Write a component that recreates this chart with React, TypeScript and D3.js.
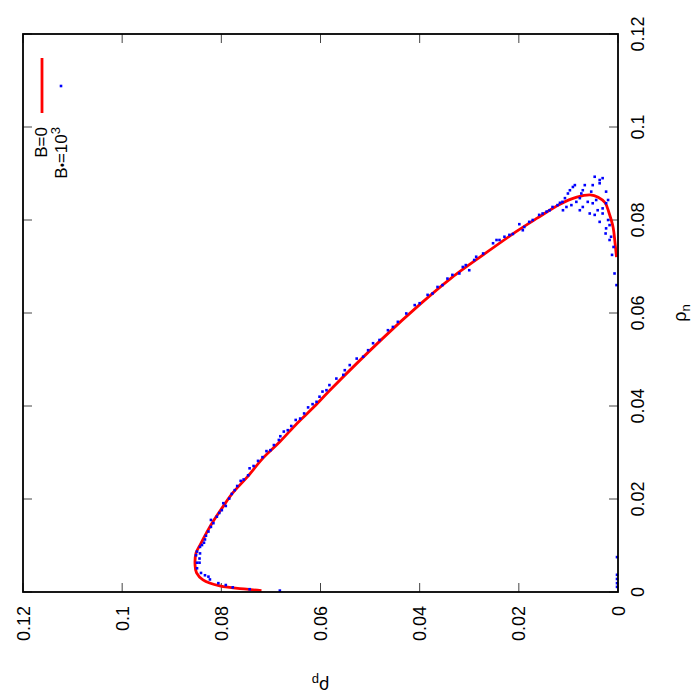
import * as d3 from "d3";

const W = 700;
const H = 700;
// plot frame, already in the rotated layout of the picture
const FRAME = { left: 23, right: 618, top: 34, bottom: 592 };
const FONT = "'Liberation Sans', Arial, Helvetica, sans-serif";

// tick values shared by both axes
const TICKS = [0, 0.02, 0.04, 0.06, 0.08, 0.1, 0.12];
const TICK_LABELS = ["0", "0.02", "0.04", "0.06", "0.08", "0.1", "0.12"];

// B=0 curve (red line)
const redRhoN = [
  0.0003, 0.0006, 0.0013, 0.0026, 0.0041, 0.0058, 0.0084, 0.0101, 0.0127, 0.0151,
  0.0183, 0.0213, 0.0247, 0.0288, 0.0323, 0.0363, 0.0396, 0.0434, 0.0546, 0.0619,
  0.0673, 0.0725, 0.0776, 0.0804, 0.0834, 0.0849, 0.0854, 0.0849, 0.0837,
  0.0815, 0.0785, 0.0751, 0.072,
];
const redRhoP = [
  0.0719, 0.0749, 0.0803, 0.0837, 0.085, 0.0853, 0.0851, 0.0843, 0.083, 0.0817,
  0.0797, 0.0777, 0.0748, 0.0716, 0.0682, 0.0647, 0.0615, 0.0581, 0.0474, 0.0399,
  0.0339, 0.0272, 0.0204, 0.0163, 0.0117, 0.0083, 0.0056, 0.004, 0.0026,
  0.0018, 0.001, 0.0006, 0.0003,
];

// B=10^3 points (blue dots)
const blueRhoN = [
  0.0006, 0.001, 0.0015, 0.0019, 0.0003, 0.0027, 0.0033, 0.0036, 0.0041, 0.0051,
  0.0063, 0.0063, 0.0072, 0.0079, 0.0083, 0.0087, 0.0097, 0.0101, 0.0106, 0.0113,
  0.0121, 0.013, 0.014, 0.0155, 0.0148, 0.0162, 0.017, 0.0176, 0.0191, 0.0185,
  0.0201, 0.0211, 0.0219, 0.0228, 0.0239, 0.0242, 0.0251, 0.0266, 0.0271, 0.0282,
  0.029, 0.0303, 0.0305, 0.0316, 0.0327, 0.0335, 0.0345, 0.0348, 0.0357, 0.037,
  0.0373, 0.0384, 0.0397, 0.0404, 0.0409, 0.042, 0.0431, 0.0434, 0.0445, 0.0459,
  0.0467, 0.0477, 0.0488, 0.0502, 0.0506, 0.052, 0.0535, 0.0542, 0.0563, 0.057,
  0.0581, 0.0599, 0.0617, 0.0621, 0.0639, 0.0642, 0.0656, 0.066, 0.0674, 0.0682,
  0.0685, 0.0699, 0.0703, 0.0692, 0.0714, 0.0721, 0.0728, 0.075, 0.0757, 0.0757,
  0.0764, 0.0768, 0.077, 0.0791, 0.0778, 0.0785, 0.0796, 0.08, 0.0811, 0.0814,
  0.0821, 0.0828, 0.0832, 0.0839,
  0.0818, 0.0837, 0.0821, 0.0847, 0.0857, 0.0864, 0.0871, 0.0875, 0.0828, 0.0832,
  0.0839, 0.0847, 0.0857, 0.0864, 0.0875, 0.0861, 0.0875, 0.0893, 0.0886, 0.089,
  0.0879, 0.0861, 0.0821, 0.0828, 0.0814, 0.0839, 0.0836, 0.0843, 0.0821, 0.0811,
  0.0825, 0.0843, 0.0836, 0.0814, 0.0796, 0.08, 0.0789, 0.0782, 0.0764, 0.0771,
  0.0757, 0.0742, 0.0725, 0.0685, 0.066,
  0.0075, 0.0037, 0.0028, 0.0019, 0.0011,
];
const blueRhoP = [
  0.0743, 0.0777, 0.0791, 0.0806, 0.0682, 0.0823, 0.0826, 0.0833, 0.0841, 0.0849,
  0.0844, 0.0849, 0.0844, 0.0851, 0.0843, 0.0849, 0.0843, 0.0839, 0.0835, 0.0833,
  0.0831, 0.0826, 0.0821, 0.0821, 0.0816, 0.0809, 0.0804, 0.0799, 0.0796, 0.0791,
  0.0784, 0.0779, 0.0773, 0.0768, 0.0761, 0.0755, 0.0746, 0.0743, 0.0735, 0.0726,
  0.0717, 0.0709, 0.0701, 0.0694, 0.0684, 0.0681, 0.0674, 0.0666, 0.0659, 0.065,
  0.0641, 0.0633, 0.0625, 0.0616, 0.0608, 0.0602, 0.0596, 0.0588, 0.0582, 0.0568,
  0.0554, 0.0551, 0.0541, 0.0527, 0.0514, 0.0504, 0.0494, 0.0481, 0.0464, 0.0454,
  0.0444, 0.0427, 0.041, 0.04, 0.0384, 0.0374, 0.0364, 0.0354, 0.0344, 0.0334,
  0.032, 0.0313, 0.0307, 0.03, 0.029, 0.0286, 0.0272, 0.0252, 0.0245, 0.0239,
  0.0229, 0.0219, 0.0212, 0.0199, 0.0192, 0.0189, 0.0179, 0.0172, 0.0159, 0.0152,
  0.0138, 0.0132, 0.0122, 0.0112,
  0.0144, 0.0117, 0.0111, 0.0107, 0.0101, 0.0097, 0.0091, 0.0087, 0.0104, 0.0094,
  0.0084, 0.0077, 0.0074, 0.0071, 0.0067, 0.0054, 0.0051, 0.0047, 0.0037, 0.0031,
  0.0037, 0.0024, 0.0077, 0.0071, 0.0057, 0.0061, 0.0051, 0.0044, 0.0041, 0.0047,
  0.0031, 0.002, 0.0024, 0.0031, 0.0037, 0.002, 0.0017, 0.0024, 0.0014, 0.0025,
  0.0017, 0.0009, 0.0012, 0.0007, 0.0003,
  0.0002, 0.0002, 0.0002, 0.0002, 0.0002,
];

export default function App() {
  // rho_p runs right -> left along the bottom, rho_n bottom -> top on the right
  const xScale = d3.scaleLinear().domain([0, 0.12]).range([FRAME.right, FRAME.left]);
  const yScale = d3.scaleLinear().domain([0, 0.12]).range([FRAME.bottom, FRAME.top]);

  const redPts = redRhoN.map((n, i) => [redRhoP[i], n] as [number, number]);
  const line = d3
    .line<[number, number]>()
    .x((d) => xScale(d[0]))
    .y((d) => yScale(d[1]))
    .curve(d3.curveCatmullRom.alpha(0.5));

  const dot = 2.6;
  const tickLen = 9;

  return (
    <svg
      width={W}
      height={H}
      style={{ position: "absolute", left: 0, top: 0, background: "#fff" }}
      fontFamily={FONT}
    >
      {/* ticks (mirrored on both sides) */}
      {TICKS.map((t, i) => (
        <g key={"t" + i} stroke="#444" strokeWidth={1}>
          <line x1={xScale(t)} x2={xScale(t)} y1={FRAME.bottom} y2={FRAME.bottom - tickLen} />
          <line x1={xScale(t)} x2={xScale(t)} y1={FRAME.top} y2={FRAME.top + tickLen} />
          <line x1={FRAME.right} x2={FRAME.right - tickLen} y1={yScale(t)} y2={yScale(t)} />
          <line x1={FRAME.left} x2={FRAME.left + tickLen} y1={yScale(t)} y2={yScale(t)} />
        </g>
      ))}

      {/* data */}
      <path d={line(redPts) ?? ""} fill="none" stroke="#ff0000" strokeWidth={2.8} />
      {blueRhoN.map((n, i) => (
        <rect
          key={"b" + i}
          x={xScale(blueRhoP[i]) - dot / 2}
          y={yScale(n) - dot / 2}
          width={dot}
          height={dot}
          fill="#0000ff"
        />
      ))}

      {/* frame */}
      <rect
        x={FRAME.left}
        y={FRAME.top}
        width={FRAME.right - FRAME.left}
        height={FRAME.bottom - FRAME.top}
        fill="none"
        stroke="#000"
        strokeWidth={1.8}
      />

      {/* tick labels: bottom (rho_p) */}
      {TICKS.map((t, i) => (
        <text
          key={"lx" + i}
          transform={`translate(${xScale(t) + 6.5},${FRAME.bottom + 14}) rotate(-90)`}
          textAnchor="end"
          fontSize={18}
          fill="#000"
        >
          {TICK_LABELS[i]}
        </text>
      ))}
      {/* tick labels: right (rho_n) */}
      {TICKS.map((t, i) => (
        <text
          key={"ly" + i}
          transform={`translate(${FRAME.right + 26},${yScale(t)}) rotate(-90)`}
          textAnchor="middle"
          fontSize={18}
          fill="#000"
        >
          {TICK_LABELS[i]}
        </text>
      ))}

      {/* axis titles */}
      <text
        transform={`translate(${FRAME.right + 68},${(FRAME.top + FRAME.bottom) / 2}) rotate(-90)`}
        textAnchor="middle"
        fontSize={18}
      >
        ρ<tspan fontSize={13} dy={4}>n</tspan>
      </text>
      <text
        transform={`translate(${(FRAME.left + FRAME.right) / 2},680) rotate(180)`}
        textAnchor="middle"
        fontSize={18}
      >
        ρ<tspan fontSize={13} dy={4}>p</tspan>
      </text>

      {/* legend */}
      <text transform="translate(47,127) rotate(-90)" textAnchor="end" fontSize={17}>
        B=0
      </text>
      <line x1={42} x2={42} y1={58} y2={113} stroke="#ff0000" strokeWidth={2.8} />
      <text transform="translate(67,127) rotate(-90)" textAnchor="end" fontSize={17}>
        B<tspan fontSize={12}>•</tspan>=10<tspan fontSize={13} dy={-7}>3</tspan>
      </text>
      <rect x={61 - dot / 2} y={86 - dot / 2} width={dot} height={dot} fill="#0000ff" />
    </svg>
  );
}
